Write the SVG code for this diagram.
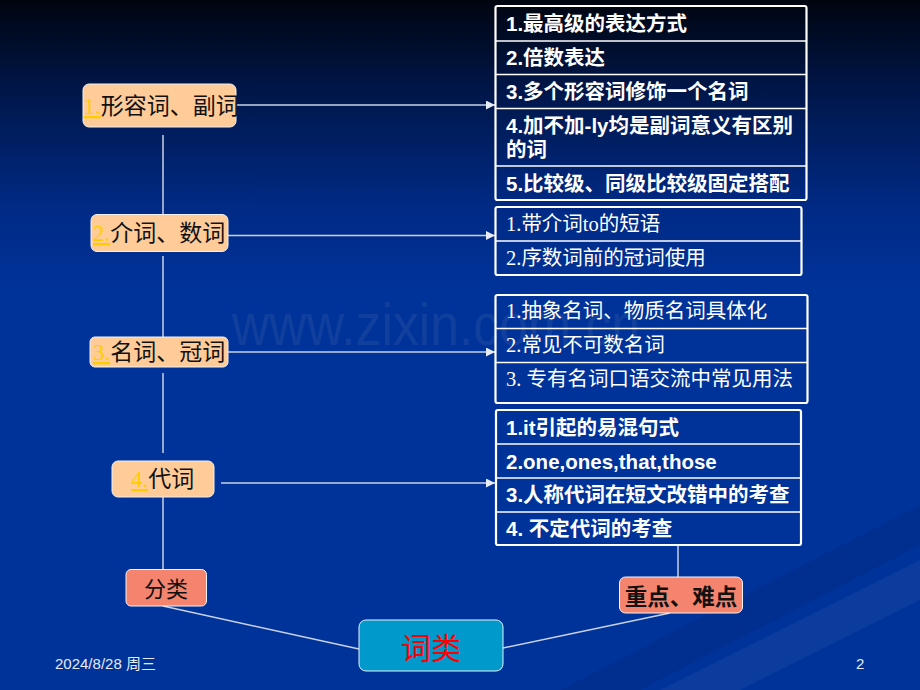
<svg xmlns="http://www.w3.org/2000/svg" width="920" height="690" viewBox="0 0 920 690">
<defs>
<linearGradient id="bg" x1="0" y1="0" x2="0" y2="1" gradientUnits="objectBoundingBox">
<stop offset="0" stop-color="#00050f"/>
<stop offset="0.12" stop-color="#001545"/>
<stop offset="0.3" stop-color="#002a85"/>
<stop offset="0.42" stop-color="#003399"/>
<stop offset="1" stop-color="#003399"/>
</linearGradient>
<marker id="arr" viewBox="0 0 10 10" refX="10" refY="5" markerWidth="9" markerHeight="9" markerUnits="userSpaceOnUse" orient="auto">
<path d="M0,0 L10,5 L0,10 z" fill="#e6ebf5"/>
</marker>
<style>
.conn{stroke:#c9d2e6;stroke-width:1.5;fill:none}
.peach{fill:#ffcc99;stroke:#f0f0f0;stroke-width:1}
.salmon{fill:#f4846e;stroke:#f4f4f4;stroke-width:1}
.frame{fill:none;stroke:#ffffff;stroke-width:2.2}
.div{stroke:#ffffff;stroke-width:1.6}
.lt{font-family:"Noto Sans CJK SC","Liberation Serif",serif;font-size:23px;fill:#111111}
.num{font-family:"Liberation Serif",serif;fill:#ffcc00;text-decoration:underline}
.bt{font-family:"Liberation Sans","Noto Sans CJK SC",sans-serif;font-size:20.5px;font-weight:bold;fill:#ffffff}
.st{font-family:"Liberation Serif","Noto Sans CJK SC",serif;font-size:20.5px;fill:#ffffff}
.foot{font-family:"Liberation Sans","Noto Sans CJK SC",sans-serif;font-size:15px;fill:#e4eaf6}
</style>
</defs>
<rect x="0" y="0" width="920" height="690" fill="url(#bg)"/>
<polygon points="560,690 920,505 920,545 640,690" fill="#002b86" opacity="0.55"/>
<polygon points="660,690 920,560 920,600 740,690" fill="#ffffff" opacity="0.04"/>
<text x="232" y="345" font-family="Liberation Sans, sans-serif" font-size="60" fill="#7d8fbf" opacity="0.13" textLength="408" lengthAdjust="spacingAndGlyphs">www.zixin.com.cn</text>

<g id="connectors">
<line class="conn" x1="236" y1="105" x2="495" y2="105" marker-end="url(#arr)"/>
<line class="conn" x1="228" y1="235.5" x2="495" y2="235.5" marker-end="url(#arr)"/>
<line class="conn" x1="228" y1="352" x2="495" y2="352" marker-end="url(#arr)"/>
<line class="conn" x1="221" y1="483" x2="495" y2="483" marker-end="url(#arr)"/>
<line class="conn" x1="163" y1="135" x2="163" y2="228"/>
<line class="conn" x1="163" y1="256" x2="163" y2="337"/>
<line class="conn" x1="163" y1="373" x2="163" y2="453"/>
<line class="conn" x1="163" y1="497" x2="163" y2="569"/>
<line class="conn" x1="678" y1="545" x2="678" y2="577"/>
<line class="conn" x1="163" y1="606" x2="359" y2="649"/>
<line class="conn" x1="503" y1="648" x2="670" y2="613"/>
</g>

<g id="n1">
<rect class="peach" x="83" y="84" width="153" height="43" rx="6"/>
<text class="lt" x="83.5" y="114"><tspan class="num">1.</tspan>形容词、副词</text>
</g>
<g id="n2">
<rect class="peach" x="91" y="214.5" width="137" height="37" rx="6"/>
<text class="lt" x="93" y="241"><tspan class="num">2.</tspan>介词、数词</text>
</g>
<g id="n3">
<rect class="peach" x="90" y="337" width="138" height="30" rx="5"/>
<text class="lt" x="93" y="360"><tspan class="num">3.</tspan>名词、冠词</text>
</g>
<g id="n4">
<rect class="peach" x="112" y="461" width="102" height="36" rx="6"/>
<text class="lt" x="131" y="487"><tspan class="num">4.</tspan>代词</text>
</g>

<g id="boxA">
<rect class="frame" x="495.5" y="6" width="311" height="194" rx="2"/>
<line class="div" x1="496" y1="41" x2="806" y2="41"/>
<line class="div" x1="496" y1="74.5" x2="806" y2="74.5"/>
<line class="div" x1="496" y1="108.5" x2="806" y2="108.5"/>
<line class="div" x1="496" y1="166" x2="806" y2="166"/>
<text class="bt" x="506" y="31">1.最高级的表达方式</text>
<text class="bt" x="506" y="64.5">2.倍数表达</text>
<text class="bt" x="506" y="99">3.多个形容词修饰一个名词</text>
<text class="bt" x="506" y="133">4.加不加-ly均是副词意义有区别</text>
<text class="bt" x="506" y="157">的词</text>
<text class="bt" x="506" y="191">5.比较级、同级比较级固定搭配</text>
</g>

<g id="boxB">
<rect class="frame" x="495.5" y="207" width="306" height="68" rx="2"/>
<line class="div" x1="496" y1="241" x2="801" y2="241"/>
<text class="st" x="506" y="231">1.带介词to的短语</text>
<text class="st" x="506" y="264.5">2.序数词前的冠词使用</text>
</g>

<g id="boxC">
<rect class="frame" x="495.5" y="295" width="312" height="108" rx="2"/>
<line class="div" x1="496" y1="328.5" x2="807" y2="328.5"/>
<line class="div" x1="496" y1="362.5" x2="807" y2="362.5"/>
<text class="st" x="506" y="317.5">1.抽象名词、物质名词具体化</text>
<text class="st" x="506" y="352">2.常见不可数名词</text>
<text class="st" x="506" y="386">3. 专有名词口语交流中常见用法</text>
</g>

<g id="boxD">
<rect class="frame" x="496" y="410" width="305" height="135" rx="2"/>
<line class="div" x1="496" y1="444" x2="800" y2="444"/>
<line class="div" x1="496" y1="478" x2="800" y2="478"/>
<line class="div" x1="496" y1="512" x2="800" y2="512"/>
<text class="bt" x="506" y="435">1.it引起的易混句式</text>
<text class="bt" x="506" y="468.5">2.one,ones,that,those</text>
<text class="bt" x="506" y="502">3.人称代词在短文改错中的考查</text>
<text class="bt" x="506" y="536">4. 不定代词的考查</text>
</g>

<g id="fenlei">
<rect class="salmon" x="126" y="569.5" width="80.5" height="36.5" rx="5"/>
<text x="166" y="597" text-anchor="middle" font-family="Noto Sans CJK SC, sans-serif" font-size="22" fill="#111111">分类</text>
</g>
<g id="zhongdian">
<rect class="salmon" x="619.5" y="577" width="123" height="36" rx="6"/>
<text x="681" y="605" text-anchor="middle" font-family="Noto Sans CJK SC, sans-serif" font-size="22.5" font-weight="bold" fill="#111111">重点、难点</text>
</g>
<g id="cilei">
<rect x="359" y="620" width="144" height="51" rx="7" fill="#0099cc" stroke="#e8f0f8" stroke-width="1"/>
<text x="431" y="659" text-anchor="middle" font-family="Noto Sans CJK SC, sans-serif" font-size="30" fill="#ff0000">词类</text>
</g>

<text class="foot" x="55" y="669">2024/8/28 周三</text>
<text class="foot" x="856" y="669">2</text>
</svg>
